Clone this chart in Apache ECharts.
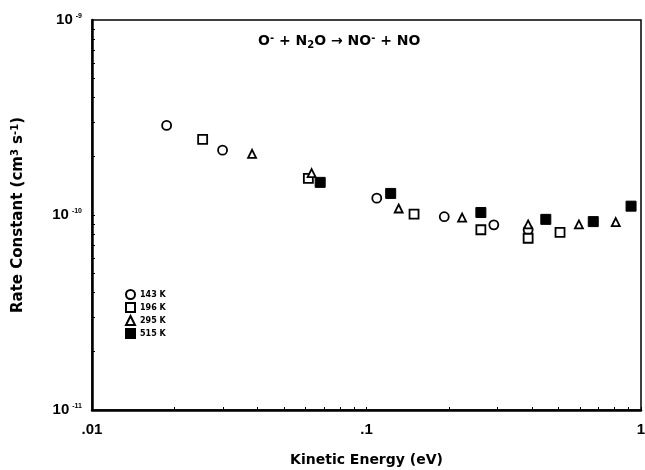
<!DOCTYPE html>
<html>
<head>
<meta charset="utf-8">
<script src="https://cdn.jsdelivr.net/npm/echarts@6/dist/echarts.min.js"></script>
<style>html,body{margin:0;padding:0;background:#fff}#c{width:645px;height:470px}</style>
</head>
<body>
<div id="c"></div>
<script>
// Kinetic energy (eV) and rate constant (cm^3 s^-1) per temperature
const x143 = [0.0187, 0.0299, 0.109, 0.192, 0.291, 0.388];
const y143 = [2.88e-10, 2.15e-10, 1.22e-10, 9.8e-11, 8.9e-11, 8.4e-11];
const x196 = [0.0253, 0.0614, 0.149, 0.261, 0.388, 0.507];
const y196 = [2.44e-10, 1.54e-10, 1.01e-10, 8.4e-11, 7.6e-11, 8.15e-11];
const x295 = [0.0383, 0.0631, 0.131, 0.223, 0.388, 0.594, 0.809];
const y295 = [2.06e-10, 1.64e-10, 1.08e-10, 9.7e-11, 8.95e-11, 8.95e-11, 9.2e-11];
const x515 = [0.0678, 0.1225, 0.261, 0.450, 0.670, 0.920];
const y515 = [1.47e-10, 1.29e-10, 1.03e-10, 9.5e-11, 9.25e-11, 1.11e-10];
const seriesNames = ['143 K', '196 K', '295 K', '515 K'];
const xTickLabels = {0.01: '.01', 0.1: '.1', 1: '1'};
const yTickLabels = {'1e-11': '-11', '1e-10': '-10', '1e-9': '-9'};

const FONT = '"Liberation Sans", Arial, sans-serif';
const WIDE = '"DejaVu Sans", "Liberation Sans", sans-serif';
function pairs(xs, ys) { return xs.map((x, i) => [x, ys[i]]); }
const yMinor = [];
for (let e = -11; e < -9; e++) for (let m = 1; m <= 9; m++) yMinor.push(m * Math.pow(10, e));
yMinor.push(1e-9);
const xMinor = [];
for (let e = -2; e < 0; e++) for (let m = 1; m <= 9; m++) xMinor.push(m * Math.pow(10, e));
xMinor.push(1);

const openStyle = {color: '#fff', borderColor: '#000', borderWidth: 1.8, opacity: 1};
const chart = echarts.init(document.getElementById('c'));
chart.setOption({
  animation: false,
  backgroundColor: '#fff',
  textStyle: {fontFamily: FONT},
  title: {
    text: 'O{sup|-} + N{sub|2}O \u2192 NO{sup|-} + NO',
    left: 253, top: 28,
    textStyle: {
      fontFamily: WIDE, fontWeight: 'bold', fontSize: 14, color: '#000',
      rich: {
        sup: {fontSize: 10, fontWeight: 'bold', verticalAlign: 'top', padding: [0, 0, 6, 0], fontFamily: WIDE},
        sub: {fontSize: 10, fontWeight: 'bold', verticalAlign: 'bottom', padding: [7, 0, 0, 0], fontFamily: WIDE}
      }
    }
  },
  legend: {
    orient: 'vertical', left: 120, top: 284,
    itemWidth: 9, itemHeight: 9, itemGap: 2,
    data: seriesNames,
    textStyle: {fontFamily: WIDE, fontSize: 8, fontWeight: 'bold', color: '#000', lineHeight: 9}
  },
  grid: {left: 92, right: 4, top: 20, bottom: 60, outerBoundsMode: 'none', containLabel: false, show: true, borderColor: '#000', borderWidth: 1.5, backgroundColor: 'transparent'},
  xAxis: {
    type: 'log', logBase: 10, min: 0.01, max: 1,
    name: 'Kinetic Energy (eV)', nameLocation: 'middle', nameGap: 43,
    nameTextStyle: {fontFamily: WIDE, fontWeight: 'bold', fontSize: 14, color: '#000'},
    axisLine: {lineStyle: {color: '#000', width: 2.5}},
    axisTick: {show: true, inside: true, length: 3, lineStyle: {color: '#000'}, customValues: xMinor},
    splitLine: {show: false},
    axisLabel: {
      fontFamily: FONT, fontWeight: 'bold', fontSize: 15, color: '#000', margin: 12,
      formatter: v => xTickLabels[+v.toPrecision(3)] || ''
    }
  },
  yAxis: {
    type: 'log', logBase: 10, min: 1e-11, max: 1e-9,
    name: 'Rate Constant (cm{sup|3} s{sup|-1})', nameLocation: 'middle', nameGap: 66, nameRotate: 90,
    nameTextStyle: {
      fontFamily: WIDE, fontWeight: 'bold', fontSize: 15, color: '#000',
      rich: {sup: {fontSize: 10, fontWeight: 'bold', verticalAlign: 'top', padding: [0, 0, 6, 0], fontFamily: WIDE}}
    },
    axisLine: {lineStyle: {color: '#000', width: 2.5}},
    axisTick: {show: true, inside: true, length: 3, lineStyle: {color: '#000'}, customValues: yMinor},
    splitLine: {show: false},
    axisLabel: {
      fontFamily: FONT, fontWeight: 'bold', fontSize: 15, color: '#000', margin: 10,
      formatter: v => {
        const k = (+v).toExponential(0);
        const e = yTickLabels[k];
        return e ? '10{sup|' + e + '}' : '';
      },
      rich: {sup: {fontSize: 7, fontWeight: 'bold', verticalAlign: 'top', padding: [0, 0, 8, 3], fontFamily: FONT, color: '#000'}}
    }
  },
  series: [
    {name: seriesNames[0], type: 'scatter', symbol: 'circle', symbolSize: 9, itemStyle: openStyle, data: pairs(x143, y143)},
    {name: seriesNames[1], type: 'scatter', symbol: 'rect', symbolSize: 9, itemStyle: openStyle, data: pairs(x196, y196)},
    {name: seriesNames[2], type: 'scatter', symbol: 'triangle', symbolSize: 8, itemStyle: openStyle, data: pairs(x295, y295)},
    {name: seriesNames[3], type: 'scatter', symbol: 'rect', symbolSize: 10, itemStyle: {color: '#000', borderColor: '#000', borderWidth: 1, opacity: 1}, data: pairs(x515, y515)}
  ]
});
</script>
</body>
</html>
